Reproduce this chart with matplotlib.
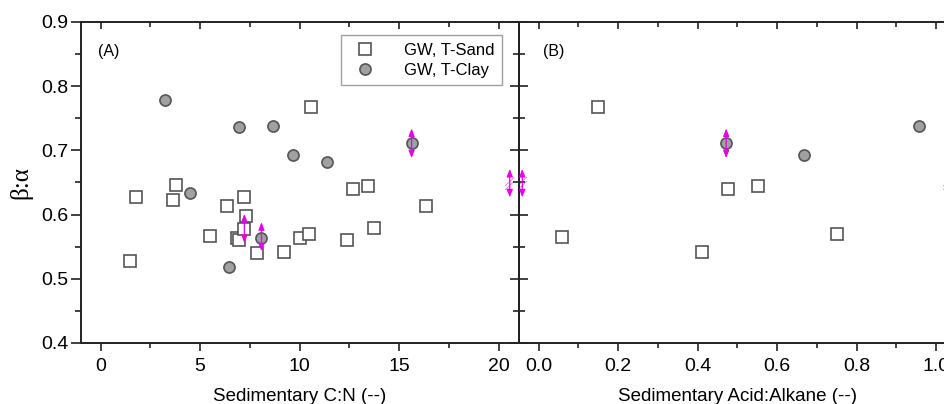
import matplotlib.pyplot as plt
from matplotlib.ticker import MultipleLocator

plt.rcParams['font.family'] = ['Liberation Sans', 'DejaVu Sans']

# panel A: sedimentary C:N
cn_sand_x = [1.49, 1.78, 3.62, 3.79, 5.50, 6.37, 6.84, 6.94, 7.22, 7.30, 7.20,
             7.88, 9.22, 10.02, 10.46, 10.59, 12.36, 12.67, 13.41, 13.74, 16.32]
cn_sand_y = [0.527, 0.627, 0.622, 0.646, 0.567, 0.614, 0.564, 0.561, 0.628, 0.598, 0.578,
             0.540, 0.542, 0.564, 0.570, 0.767, 0.561, 0.640, 0.645, 0.579, 0.614]
cn_clay_x = [3.21, 4.48, 6.47, 6.93, 8.64, 8.08, 9.64, 11.36, 15.62]
cn_clay_y = [0.779, 0.634, 0.519, 0.737, 0.738, 0.564, 0.693, 0.682, 0.711]

# panel B: sedimentary acid:alkane
aa_sand_x = [0.058, 0.149, 0.410, 0.476, 0.551, 0.752]
aa_sand_y = [0.565, 0.768, 0.542, 0.640, 0.644, 0.570]
aa_clay_x = [0.472, 0.667, 0.958]
aa_clay_y = [0.711, 0.693, 0.738]

# magenta range arrows (x, low, high)
cn_arrows = [(15.62, 0.688, 0.734), (8.08, 0.543, 0.588), (7.22, 0.556, 0.601)]
aa_arrows = [(0.472, 0.688, 0.734)]
brk_lo, brk_hi = 0.627, 0.671

magenta = '#e600e6'
edge = '#555555'
dark = '#222222'

fig = plt.figure(figsize=(9.45, 4.04), dpi=100)
axA = fig.add_axes([0.0854, 0.151, 0.4635, 0.7946])
axB = fig.add_axes([0.5489, 0.151, 0.4635, 0.7946])
axB.patch.set_visible(False)


def arrow(ax, x, lo, hi):
    ax.annotate('', xy=(x, hi), xytext=(x, lo),
                arrowprops=dict(arrowstyle='<|-|>,head_length=0.45,head_width=0.18',
                                color=magenta, lw=0.9, shrinkA=0, shrinkB=0),
                annotation_clip=False)


def brk(ax, x, dx):
    arrow(ax, x, brk_lo, brk_hi)
    for off in (0.0, 0.006):
        ax.plot([x - dx, x + dx], [0.639 + off, 0.652 + off], color=magenta,
                lw=0.6, alpha=0.6, clip_on=False)


for ax, major, minor, fmt in ((axA, 5, 2.5, None), (axB, 0.2, 0.1, '{x:.1f}')):
    ax.set_ylim(0.4, 0.9)
    ax.yaxis.set_major_locator(MultipleLocator(0.1))
    ax.yaxis.set_minor_locator(MultipleLocator(0.05))
    ax.xaxis.set_major_locator(MultipleLocator(major))
    ax.xaxis.set_minor_locator(MultipleLocator(minor))
    if fmt:
        ax.xaxis.set_major_formatter(fmt)
    for s in ax.spines.values():
        s.set_linewidth(1.4)
        s.set_color(dark)
    ax.tick_params(axis='x', which='both', bottom=True, top=False, labelsize=14,
                   direction='out', width=1.2, color=dark, pad=5)
    ax.tick_params(axis='x', which='major', length=6)
    ax.tick_params(axis='x', which='minor', length=3.5)
    top = ax.secondary_xaxis('top')
    top.xaxis.set_major_locator(MultipleLocator(major))
    top.xaxis.set_minor_locator(MultipleLocator(minor))
    top.spines['top'].set_visible(False)
    top.tick_params(which='both', direction='in', labeltop=False, width=1.2, color=dark)
    top.tick_params(which='major', length=5)
    top.tick_params(which='minor', length=3.5)

# panel A
axA.plot(cn_sand_x, cn_sand_y, 's', ms=8, mfc='white', mec=edge, mew=1.2,
         label='GW, T-Sand', zorder=3)
axA.plot(cn_clay_x, cn_clay_y, 'o', ms=8, mfc='#a0a0a0', mec=edge, mew=1.2,
         label='GW, T-Clay', zorder=3)
for x, lo, hi in cn_arrows:
    arrow(axA, x, lo, hi)
axA.set_xlim(-1, 21)
axA.tick_params(axis='y', which='both', left=True, right=False, labelsize=14,
                direction='out', width=1.2, color=dark, pad=2)
axA.tick_params(axis='y', which='major', length=7)
axA.tick_params(axis='y', which='minor', length=4)
axA.set_xlabel('Sedimentary C:N (--)', fontsize=13.5, labelpad=9)
axA.set_ylabel('β:α', fontsize=18, family=['Liberation Serif', 'DejaVu Serif'], labelpad=6)
axA.text(0.04, 0.93, '(A)', transform=axA.transAxes, fontsize=11.5, va='top')
leg = axA.legend(loc='upper right', fontsize=12, frameon=True, fancybox=False,
                 borderpad=0.45, handletextpad=1.3, labelspacing=0.3,
                 bbox_to_anchor=(0.98, 0.985))
leg.get_frame().set_edgecolor('#888888')
leg.get_frame().set_linewidth(1.0)

# panel B
axB.plot(aa_sand_x, aa_sand_y, 's', ms=8, mfc='white', mec=edge, mew=1.2, zorder=3)
axB.plot(aa_clay_x, aa_clay_y, 'o', ms=8, mfc='#a0a0a0', mec=edge, mew=1.2, zorder=3)
for x, lo, hi in aa_arrows:
    arrow(axB, x, lo, hi)
axB.set_xlim(-0.05, 1.052)
axB.tick_params(axis='y', which='both', left=True, right=False, labelleft=False,
                direction='inout', width=1.2, color=dark)
axB.tick_params(axis='y', which='major', length=13)
axB.tick_params(axis='y', which='minor', length=8)
axB.set_xlabel('Sedimentary Acid:Alkane (--)', fontsize=13.5, labelpad=9)
axB.text(0.055, 0.93, '(B)', transform=axB.transAxes, fontsize=11.5, va='top')

# axis break marks on the shared spine and the right edge
brk(axA, 20.55, 0.22)
brk(axB, -0.041, 0.011)
brk(axB, 1.03, 0.011)

fig.savefig('out.png', dpi=100)
